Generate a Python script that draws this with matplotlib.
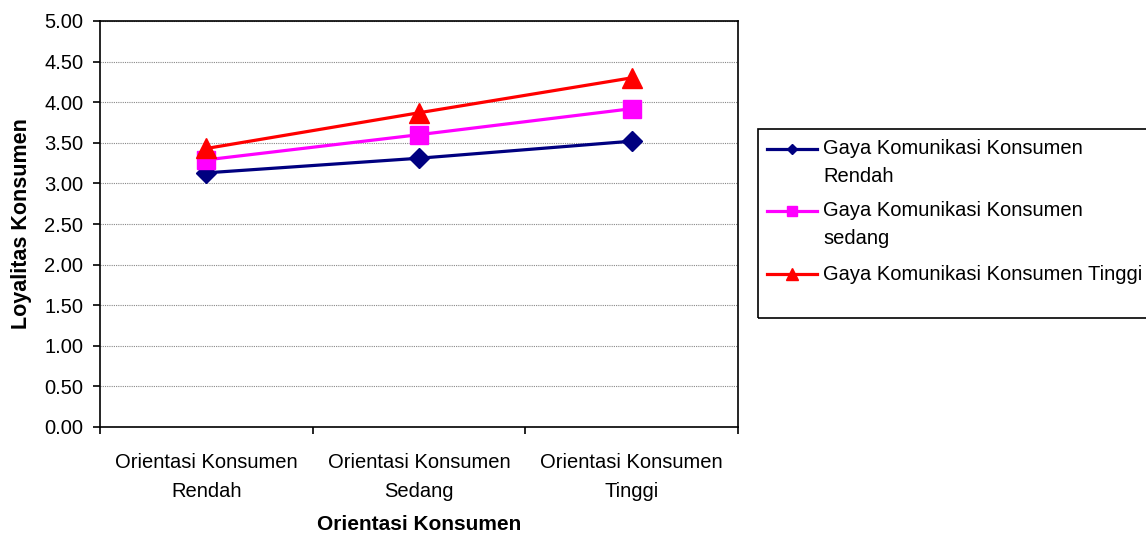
import matplotlib
matplotlib.use("Agg")
import matplotlib.pyplot as plt
from matplotlib.lines import Line2D
from matplotlib.patches import Rectangle

plt.rcParams["font.family"] = ["Liberation Sans", "DejaVu Sans"]

categories = ["Orientasi Konsumen\nRendah", "Orientasi Konsumen\nSedang", "Orientasi Konsumen\nTinggi"]
series_names = [
    "Gaya Komunikasi Konsumen\nRendah",
    "Gaya Komunikasi Konsumen\nsedang",
    "Gaya Komunikasi Konsumen Tinggi",
]
gaya_rendah = [3.13, 3.31, 3.52]
gaya_sedang = [3.29, 3.60, 3.92]
gaya_tinggi = [3.43, 3.87, 4.30]
y_ticks = [0.0, 0.5, 1.0, 1.5, 2.0, 2.5, 3.0, 3.5, 4.0, 4.5, 5.0]

W, H = 1146, 537
FS = 14.5
fig = plt.figure(figsize=(W / 100, H / 100), dpi=100)
ax = fig.add_axes([100 / W, (H - 427) / H, 638 / W, 406 / H])


def fx(px):
    return px / W


def fy(py):
    return 1 - py / H


xs = [i + 0.5 for i in range(len(categories))]
styles = [
    (gaya_rendah, "#000080", "D", 10, 5),
    (gaya_sedang, "#FF00FF", "s", 13, 7.5),
    (gaya_tinggi, "#FF0000", "^", 14, 8),
]
for vals, color, marker, ms, _ in styles:
    ax.plot(xs, vals, color=color, lw=2.3, marker=marker, ms=ms,
            mec=color, mfc=color, zorder=3)

ax.set_xlim(0, 3)
ax.set_ylim(0, 5)
ax.set_yticks(y_ticks)
ax.set_yticklabels([f"{v:.2f}" for v in y_ticks], fontsize=FS)
ax.set_xticks([0, 1, 2, 3])
ax.set_xticklabels([])
ax.set_xticks(xs, minor=True)
ax.set_xticklabels(categories, minor=True, fontsize=FS, linespacing=1.65)
ax.tick_params(axis="x", which="minor", length=0, pad=19)
ax.tick_params(axis="both", which="major", direction="out", length=5, width=1.2)
ax.tick_params(axis="y", pad=7)
ax.yaxis.grid(True, color="#888888", linestyle=(0, (1, 1)), lw=0.8)
ax.set_axisbelow(True)
for sp in ax.spines.values():
    sp.set_linewidth(1.2)
    sp.set_color("black")

ax.set_xlabel("Orientasi Konsumen", fontsize=15, fontweight="bold", labelpad=10)
ax.set_ylabel("Loyalitas Konsumen", fontsize=15.5, fontweight="bold", labelpad=8.5)

# legend box, drawn by hand so the handle sits on the first text line
fig.patches.append(Rectangle((fx(758), fy(318)), 400 / W, 189 / H,
                             transform=fig.transFigure, fill=False,
                             edgecolor="black", lw=1.2))
row_y = [149, 211, 274]
for (vals, color, marker, _, lms), name, y in zip(styles, series_names, row_y):
    fig.lines.append(Line2D([fx(767), fx(817)], [fy(y), fy(y)], transform=fig.transFigure,
                            color=color, lw=2.3))
    fig.lines.append(Line2D([fx(792)], [fy(y)], transform=fig.transFigure, color=color,
                            marker=marker, ms=lms, mec=color, mfc=color, lw=0))
    for k, line in enumerate(name.split("\n")):
        fig.text(fx(823), fy(y + k * 27), line, fontsize=FS, va="center", ha="left")

fig.savefig("out.png", dpi=100)
